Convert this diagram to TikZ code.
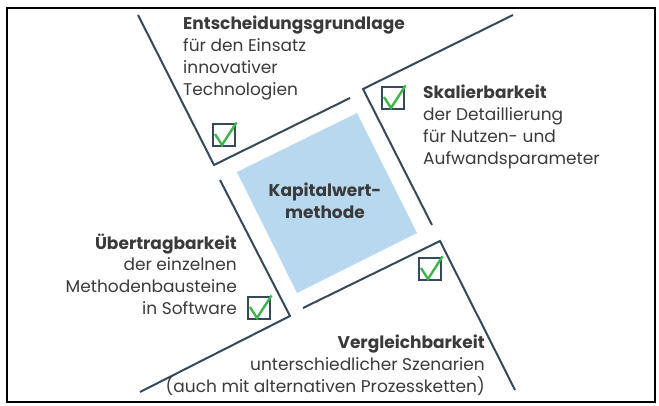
\documentclass[tikz,border=0pt]{standalone}
\usepackage{fontspec}
\setmainfont{Poppins}
\usepackage{xcolor}
\usetikzlibrary{positioning}
\definecolor{slate}{HTML}{34495A}
\definecolor{tickgreen}{HTML}{3DB54A}
\definecolor{methodblue}{HTML}{B7D8EF}
\definecolor{txtgray}{HTML}{3A3A3A}
\tikzset{
	frame/.style = {draw=black, line width=2.2pt},
	bracket/.style = {draw=slate, line width=2pt},
	checkbox/.style = {
			draw            = slate,
			line width      = 2.4pt,
			minimum size    = 22pt,
			inner sep       = 0pt,
		},
	tick/.style = {draw=tickgreen, line width=2.4pt},
	label/.style = {
			text            = txtgray,
			inner sep       = 0pt,
			font            = \fontsize{17}{22}\selectfont,
		}
}

\begin{document}
\begin{tikzpicture}[x=1pt,y=-1pt]
	\useasboundingbox (0,0) rectangle (659,406);
	% Outer frame
	\draw[frame] (7,8) rectangle (655,402);

	% Central square of the method
	\fill[methodblue] (357,113) -- (417,233) -- (297,293) -- (237,172) -- cycle;
	\node[label, align=center, anchor=base, font=\fontsize{17}{22}\selectfont\bfseries] (method) at (325,219) {Kapitalwert-\\methode};

	% Corners of the four brackets
	\coordinate (tlc) at (214,165);
	\coordinate (trc) at (363,89);
	\coordinate (brc) at (440,241);
	\coordinate (blc) at (290,316);
	\draw[bracket] (138,15) -- (tlc) -- (350,98);
	\draw[bracket] (513,15) -- (trc) -- (432,225);
	\draw[bracket] (515,390) -- (brc) -- (303,308);
	\draw[bracket] (220,180) -- (blc) -- (140,392);

	% Check boxes
	\foreach \cx/\cy/\nm in {224/135/chkA, 393/98/chkB, 259/308/chkC, 430/269/chkD}
		{   \node[checkbox] (\nm) at (\cx,\cy) {};
			\draw[tick] (\nm.center) ++(-9,-1) -- ++(7,11) -- ++(14.5,-22.5);
		}

	% Texts of the four properties (anchored at the last baseline)
	\node[label, align=left, anchor=base west] (decision) at (183,96)
		{\textbf{Entscheidungsgrundlage}\\für den Einsatz\\innovativer\\Technologien};
	\node[label, align=left, anchor=base west] (scaling) at (423,165)
		{\textbf{Skalierbarkeit}\\der Detaillierung\\für Nutzen- und\\Aufwandsparameter};
	\node[label, align=right, anchor=base east] (transfer) at (237,315)
		{\textbf{Übertragbarkeit}\\der einzelnen\\Methodenbausteine\\in Software};
	\node[label, align=right, anchor=base east] (compare) at (485,392)
		{\textbf{Vergleichbarkeit}\\unterschiedlicher Szenarien\\(auch mit alternativen Prozessketten)};
\end{tikzpicture}
\end{document}
